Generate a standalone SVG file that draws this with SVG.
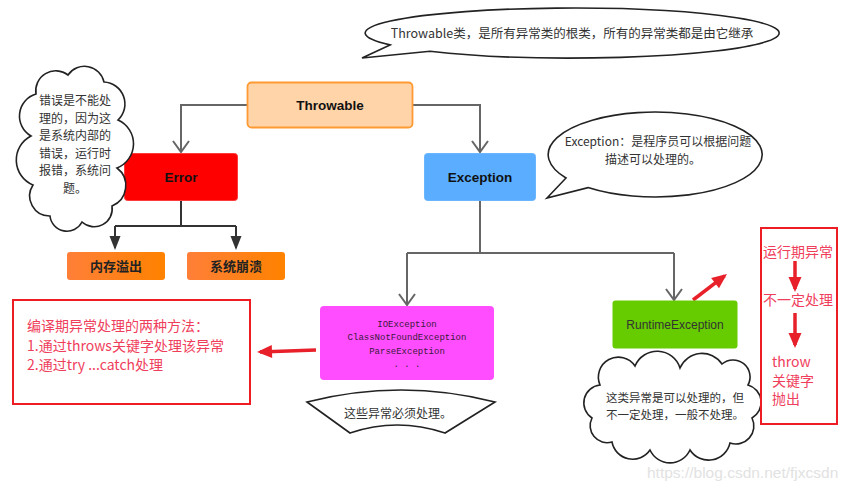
<svg xmlns="http://www.w3.org/2000/svg" width="850" height="491" viewBox="0 0 850 491">
<defs>
<style>
.sans{font-family:'Liberation Sans','Noto Sans CJK SC',sans-serif;}
.cjk{font-family:'Noto Sans CJK SC','Liberation Sans',sans-serif;}
.lbl{font-size:13.5px;font-weight:bold;fill:#111;text-anchor:middle;}
.sm{font-size:13px;font-weight:bold;fill:#222;text-anchor:middle;}
.note{font-size:12px;fill:#333;}
.red{font-size:14px;fill:#EF3E5C;}
.bubble{fill:#fff;stroke:#222;stroke-width:1.6;}
.gray{fill:none;stroke:#666;stroke-width:2;}
.dark{fill:none;stroke:#333;stroke-width:2;}
.rarrow{fill:none;stroke:#E8202A;stroke-width:3.5;}
.mono{font-family:'Liberation Mono',monospace;font-size:9px;fill:#3a1a3a;text-anchor:middle;}
</style>
<linearGradient id="og" x1="0" y1="0" x2="1" y2="0">
<stop offset="0" stop-color="#FF7F38"/>
<stop offset="1" stop-color="#FF8200"/>
</linearGradient>
<marker id="open" viewBox="-13 -10 15 20" markerWidth="15" markerHeight="20" refX="0" refY="0" orient="auto" markerUnits="userSpaceOnUse">
<path d="M-11,-8 L0,0 L-11,8" fill="none" stroke="#666" stroke-width="2"/>
</marker>
<marker id="fdark" viewBox="-16 -7 18 14" markerWidth="18" markerHeight="14" refX="-2" refY="0" orient="auto" markerUnits="userSpaceOnUse">
<path d="M-14,-5.5 L0,0 L-14,5.5 Z" fill="#333"/>
</marker>
<marker id="fred" viewBox="-17 -8 19 16" markerWidth="19" markerHeight="16" refX="-3" refY="0" orient="auto" markerUnits="userSpaceOnUse">
<path d="M-15,-6.5 L0,0 L-15,6.5 Z" fill="#E8202A"/>
</marker>
</defs>
<rect width="850" height="491" fill="#fff"/>

<g id="connectors">
<path class="gray" d="M247,105 H181 V152" marker-end="url(#open)"/>
<path class="gray" d="M412,105 H480 V152" marker-end="url(#open)"/>
<path class="dark" d="M181,201 V226 M115,226 H236"/>
<path class="dark" d="M115,226 V248" marker-end="url(#fdark)"/>
<path class="dark" d="M236,226 V248" marker-end="url(#fdark)"/>
<path class="gray" d="M480,201 V253 M407,253 H674"/>
<path class="gray" d="M407,253 V305" marker-end="url(#open)"/>
<path class="gray" d="M674,253 V300" marker-end="url(#open)"/>
<path class="rarrow" d="M316,350 L260,352" marker-end="url(#fred)"/>
<path class="rarrow" d="M693,300 L724.6,275.8" marker-end="url(#fred)"/>
<path class="rarrow" d="M795,261 V289" marker-end="url(#fred)"/>
<path class="rarrow" d="M795,313 V345" marker-end="url(#fred)"/>
</g>

<g id="throwable">
<rect x="247.5" y="82.5" width="165" height="45" rx="4" fill="#FFD4A8" stroke="#FF9A33" stroke-width="1.8"/>
<text class="sans lbl" x="330" y="110">Throwable</text>
</g>

<g id="error">
<rect x="124.5" y="153.5" width="113" height="47" rx="3" fill="#FF0000" stroke="#FF3a3a" stroke-width="1"/>
<text class="sans lbl" x="181" y="182">Error</text>
</g>

<g id="exception">
<rect x="424.5" y="153.5" width="111" height="47" rx="3" fill="#5AADFF" stroke="#6ab5ff" stroke-width="1"/>
<text class="sans lbl" x="480" y="182">Exception</text>
</g>

<g id="oom">
<rect x="67" y="252" width="98" height="28" rx="3" fill="url(#og)"/>
<text class="cjk sm" x="116" y="271">内存溢出</text>
</g>

<g id="crash">
<rect x="187" y="252" width="98" height="28" rx="3" fill="url(#og)"/>
<text class="cjk sm" x="236" y="271">系统崩溃</text>
</g>

<g id="checked">
<rect x="320" y="306" width="174" height="74" rx="4" fill="#FF4DFF"/>
<text class="mono" x="407" y="327">IOException<tspan x="407" y="340">ClassNotFoundException</tspan><tspan x="407" y="354">ParseException</tspan><tspan x="407" y="367">. . .</tspan></text>
</g>

<g id="runtime">
<rect x="612.5" y="300.5" width="125" height="48" rx="3" fill="#66CC00"/>
<text class="sans" x="675" y="329" font-size="12" fill="#333" text-anchor="middle">RuntimeException</text>
</g>

<g id="note-throwable">
<path class="bubble" d="M430,51.2 A207,25 0 1 0 390,44.9 L362,58 Z"/>
<text class="cjk" x="572" y="38" font-size="12.5" fill="#333" text-anchor="middle">Throwable类，是所有异常类的根类，所有的异常类都是由它继承</text>
</g>

<g id="note-exception">
<path class="bubble" d="M588,187.6 A107,42.5 0 1 0 566,178 L547,198 Z"/>
<text class="cjk note" x="658" y="146" text-anchor="middle">Exception：是程序员可以根据问题<tspan x="653" y="164">描述可以处理的。</tspan></text>
</g>

<g id="note-error">
<path class="bubble" d="M36,94 A20,20 0 0 1 68,75 A20,20 0 0 1 104,82 A22,22 0 0 1 118,120 A26,26 0 0 1 117,168 A22,22 0 0 1 112,206 A18,18 0 0 1 82,222 A17,17 0 0 1 50,216 A20,20 0 0 1 33,185 A27,27 0 0 1 31,136 A23,23 0 0 1 36,94 Z"/>
<text class="cjk" font-size="12" fill="#333" text-anchor="middle" x="75" y="105">错误是不能处<tspan x="75" y="122.5">理的，因为这</tspan><tspan x="75" y="140">是系统内部的</tspan><tspan x="75" y="157.5">错误，运行时</tspan><tspan x="75" y="175">报错，系统问</tspan><tspan x="75" y="192.5">题。</tspan></text>
</g>

<g id="note-runtime">
<path class="bubble" d="M600,385 A20,20 0 0 1 635,366 A24,24 0 0 1 680,368 A24,24 0 0 1 722,364 A17,17 0 0 1 748,385 A18,18 0 0 1 752,418 A18,18 0 0 1 730,443 A22,22 0 0 1 690,450 A22,22 0 0 1 650,450 A21,21 0 0 1 612,442 A17,17 0 0 1 592,418 A18,18 0 0 1 600,385 Z"/>
<text class="cjk" font-size="11.5" fill="#333" x="675" y="402" text-anchor="middle">这类异常是可以处理的，但<tspan x="675" y="419">不一定处理，一般不处理。</tspan></text>
</g>

<g id="note-checked">
<path class="bubble" d="M307,402 Q401,378 495,402 L445,433 Q397,417 350,433 Z"/>
<text class="cjk note" x="398" y="418" text-anchor="middle">这些异常必须处理。</text>
</g>

<g id="compile-box">
<rect x="13" y="300" width="237" height="104" fill="none" stroke="#EE1D23" stroke-width="2"/>
<text class="cjk red" font-size="13.5" x="27" y="331">编译期异常处理的两种方法：<tspan x="27" y="350.5">1.通过throws关键字处理该异常</tspan><tspan x="27" y="370">2.通过try ...catch处理</tspan></text>
</g>

<g id="runtime-box">
<rect x="761" y="228" width="76" height="196" fill="none" stroke="#EE1D23" stroke-width="2"/>
<text class="cjk red" x="798" y="257" text-anchor="middle">运行期异常</text>
<text class="cjk red" x="798" y="305" text-anchor="middle">不一定处理</text>
<text class="cjk red" x="772" y="367" font-size="12.5">throw<tspan x="772" y="385.5">关键字</tspan><tspan x="772" y="404">抛出</tspan></text>
</g>

<text class="sans" x="647" y="478" font-size="15.5" fill="#E2E2E2">https://blog.csdn.net/fjxcsdn</text>
</svg>
